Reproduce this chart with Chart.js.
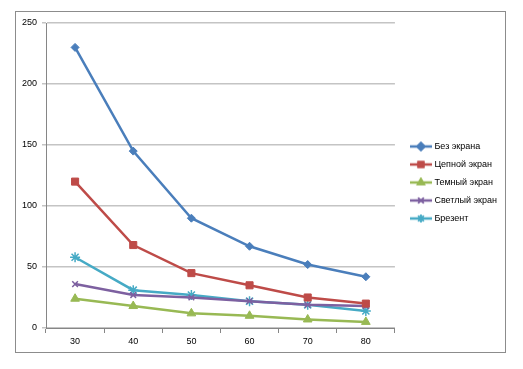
<!DOCTYPE html>
<html>
<head>
<meta charset="utf-8">
<script src="https://cdn.jsdelivr.net/npm/chart.js@4/dist/chart.umd.min.js"></script>
<style>
  html, body { margin: 0; padding: 0; background: #fff; }
  #wrap { width: 523px; height: 369px; }
</style>
</head>
<body>
<div id="wrap"><canvas id="chart" width="523" height="369"></canvas></div>
<script>
// Chart data
var categories = ['30', '40', '50', '60', '70', '80'];
var bezEkrana = [230, 145, 90, 67, 52, 42];
var tsepnoy = [120, 68, 45, 35, 25, 20];
var temny = [24, 18, 12, 10, 7, 5];
var svetly = [36, 27, 25, 22, 19, 18];
var brezent = [58, 31, 27, 22, 19, 14];
var seriesNames = ['Без экрана', 'Цепной экран', 'Темный экран', 'Светлый экран', 'Брезент'];

var colors = ['#4a7ebb', '#be4b48', '#98b954', '#7d60a0', '#46aac5'];
var markers = ['rectRot', 'rect', 'triangle', 'crossRot', 'star'];
var markerSize = [4, 5, 5, 4, 5];

// small legend icon: line with marker in the middle
function legendIcon(color, style) {
    var c = document.createElement('canvas');
    c.width = 22; c.height = 12;
    var g = c.getContext('2d');
    g.strokeStyle = color;
    g.fillStyle = color;
    g.lineWidth = 2.5;
    g.beginPath();
    g.moveTo(0, 6); g.lineTo(22, 6);
    g.stroke();
    g.lineWidth = 1.5;
    Chart.helpers.drawPoint(g, { pointStyle: style, radius: 4, rotation: 0, borderWidth: 1.5 }, 11, 6);
    if (style !== 'crossRot' && style !== 'star') g.fill();
    g.stroke();
    return c;
}

var allData = [bezEkrana, tsepnoy, temny, svetly, brezent];
var datasets = allData.map(function (d, i) {
    return {
        label: seriesNames[i],
        data: d,
        borderColor: colors[i],
        backgroundColor: colors[i],
        borderWidth: 2.5,
        pointStyle: markers[i],
        pointRadius: markerSize[i],
        pointBorderWidth: (markers[i] === 'crossRot' || markers[i] === 'star') ? 1.5 : 1,
        tension: 0
    };
});

var frame = {
    id: 'frame',
    beforeDraw: function (chart) {
        var ctx = chart.ctx;
        ctx.save();
        ctx.fillStyle = '#fff';
        ctx.fillRect(0, 0, chart.width, chart.height);
        ctx.strokeStyle = '#8c8c8c';
        ctx.lineWidth = 1;
        ctx.strokeRect(15.5, 11.5, 490, 341);
        ctx.restore();
    },
    // nudge the legend a little to sit where Excel put it
    afterLayout: function (chart) {
        var lg = chart.legend;
        lg.left += 8; lg.right += 8;
        lg.top -= 5; lg.bottom -= 5;
    }
};

var ctx = document.getElementById('chart').getContext('2d');
var myChart = new Chart(ctx, {
    type: 'line',
    data: { labels: categories, datasets: datasets },
    plugins: [frame],
    options: {
        responsive: false,
        animation: false,
        layout: { padding: { left: 16, top: 23, right: 24, bottom: 17 } },
        plugins: {
            legend: {
                position: 'right',
                labels: {
                    font: { family: 'Liberation Sans', size: 9 },
                    color: '#000',
                    usePointStyle: true,
                    pointStyleWidth: 18,
                    boxHeight: 8,
                    padding: 9,
                    generateLabels: function (chart) {
                        return chart.data.datasets.map(function (ds, i) {
                            return {
                                text: ds.label,
                                pointStyle: legendIcon(colors[i], markers[i]),
                                fillStyle: colors[i],
                                strokeStyle: colors[i],
                                lineWidth: 0,
                                datasetIndex: i
                            };
                        });
                    }
                }
            },
            tooltip: { enabled: false }
        },
        scales: {
            x: {
                offset: true,
                grid: { display: true, drawOnChartArea: false, color: '#868686', tickLength: 5, offset: true },
                border: { color: '#868686' },
                ticks: { font: { family: 'Liberation Sans', size: 9 }, color: '#000', padding: 3 },
                afterFit: function (s) { s.height = 24; }
            },
            y: {
                min: 0,
                max: 250,
                ticks: { stepSize: 50, font: { family: 'Liberation Sans', size: 9 }, color: '#000', padding: 5 },
                grid: { color: '#c4c4c4', lineWidth: 1.5, tickLength: 4 },
                border: { color: '#868686' },
                afterFit: function (s) { s.width = 30; }
            }
        }
    }
});
</script>
</body>
</html>
